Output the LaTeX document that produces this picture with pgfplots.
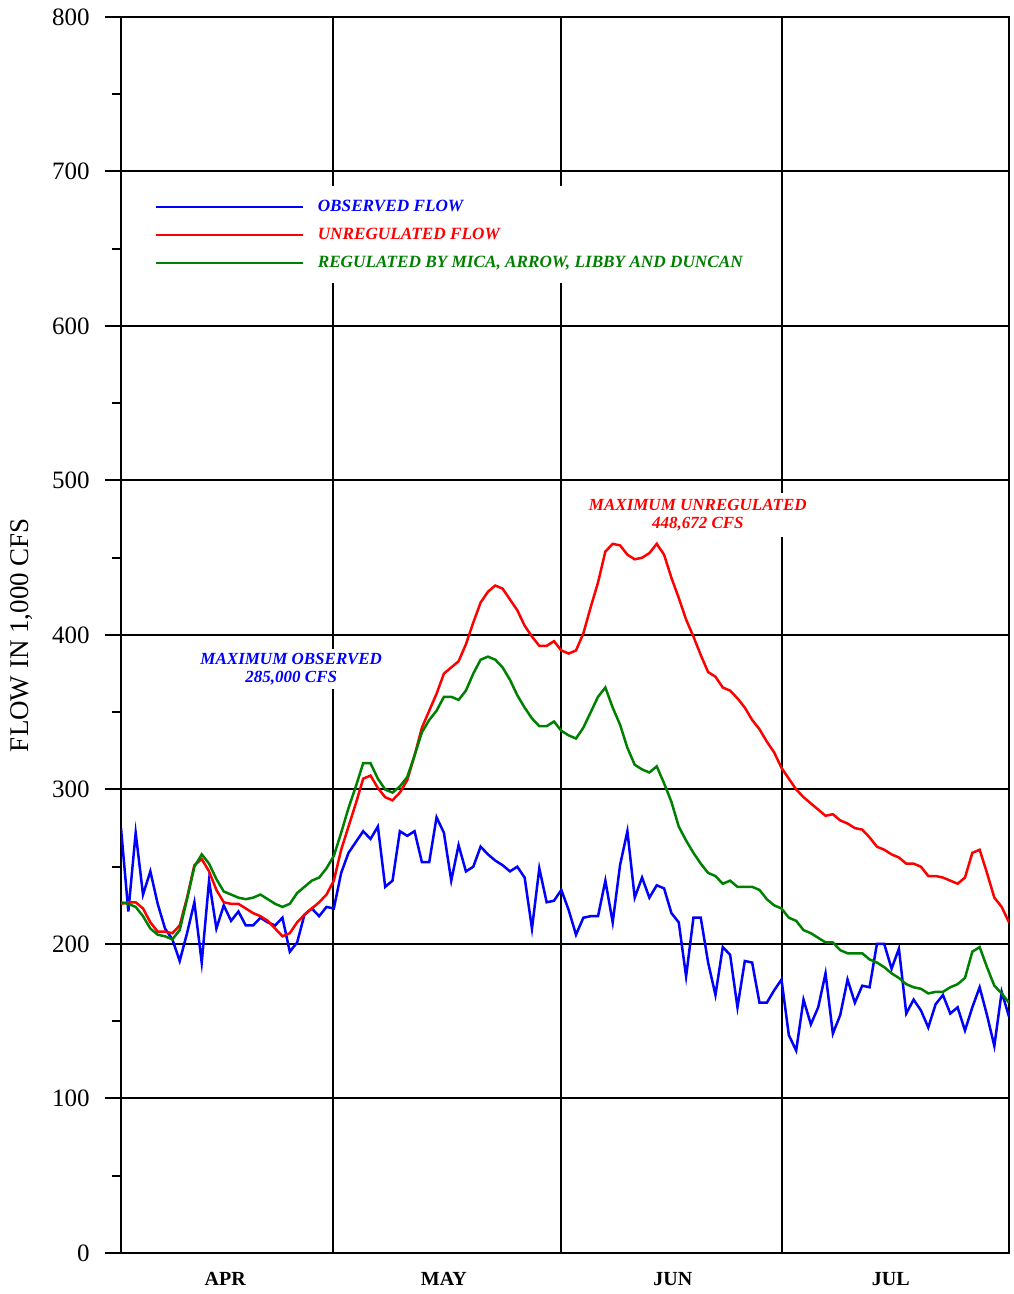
\documentclass[border=0pt]{standalone}
\usepackage{fontspec}
\setmainfont{Liberation Serif}
\usepackage{pgfplots}
\pgfplotsset{compat=1.18}
\usepackage{pgfplotstable}
\definecolor{obs}{RGB}{0,0,255}
\definecolor{unr}{RGB}{255,0,0}
\definecolor{reg}{RGB}{0,128,0}

\pgfplotstableread{
d v
0 275
1 221
2 272
3 232
4 247
5 226
6 210
7 203
8 189
9 207
10 227
11 188
12 241
13 210
14 225
15 215
16 221
17 212
18 212
19 217
20 214
21 212
22 217
23 195
24 201
25 219
26 223
27 218
28 224
29 223
30 246
31 259
32 266
33 273
34 268
35 276
36 237
37 241
38 273
39 270
40 273
41 253
42 253
43 282
44 272
45 241
46 264
47 247
48 250
49 263
50 258
51 254
52 251
53 247
54 250
55 243
56 210
57 249
58 227
59 228
60 235
61 222
62 206
63 217
64 218
65 218
66 241
67 214
68 251
69 273
70 230
71 243
72 230
73 238
74 236
75 220
76 214
77 179
78 217
79 217
80 188
81 167
82 198
83 193
84 159
85 189
86 188
87 162
88 162
89 170
90 177
91 141
92 131
93 164
94 148
95 159
96 181
97 142
98 154
99 177
100 162
101 173
102 172
103 200
104 200
105 184
106 197
107 155
108 164
109 157
110 146
111 161
112 167
113 155
114 159
115 144
116 159
117 172
118 154
119 134
120 169
121 153
}\observed

\pgfplotstableread{
d v
0 226
1 227
2 227
3 223
4 214
5 208
6 208
7 207
8 212
9 230
10 251
11 255
12 247
13 235
14 227
15 226
16 226
17 223
18 220
19 218
20 215
21 210
22 205
23 207
24 214
25 219
26 223
27 227
28 232
29 241
30 261
31 276
32 291
33 307
34 309
35 301
36 295
37 293
38 298
39 306
40 322
41 340
42 351
43 362
44 375
45 379
46 383
47 394
48 408
49 421
50 428
51 432
52 430
53 423
54 416
55 406
56 399
57 393
58 393
59 396
60 390
61 388
62 390
63 401
64 418
65 434
66 454
67 459
68 458
69 452
70 449
71 450
72 453
73 459
74 452
75 437
76 424
77 410
78 399
79 387
80 376
81 373
82 366
83 364
84 359
85 353
86 345
87 339
88 331
89 324
90 314
91 307
92 300
93 295
94 291
95 287
96 283
97 284
98 280
99 278
100 275
101 274
102 269
103 263
104 261
105 258
106 256
107 252
108 252
109 250
110 244
111 244
112 243
113 241
114 239
115 243
116 259
117 261
118 246
119 230
120 224
121 214
}\unregulated

\pgfplotstableread{
d v
0 227
1 226
2 224
3 218
4 210
5 206
6 205
7 203
8 209
9 229
10 250
11 258
12 252
13 242
14 234
15 232
16 230
17 229
18 230
19 232
20 229
21 226
22 224
23 226
24 233
25 237
26 241
27 243
28 249
29 257
30 272
31 288
32 302
33 317
34 317
35 307
36 300
37 298
38 302
39 308
40 322
41 337
42 345
43 351
44 360
45 360
46 358
47 364
48 375
49 384
50 386
51 384
52 379
53 371
54 361
55 353
56 346
57 341
58 341
59 344
60 338
61 335
62 333
63 340
64 350
65 360
66 366
67 353
68 342
69 327
70 316
71 313
72 311
73 315
74 304
75 292
76 276
77 267
78 259
79 252
80 246
81 244
82 239
83 241
84 237
85 237
86 237
87 235
88 229
89 225
90 223
91 217
92 215
93 209
94 207
95 204
96 201
97 201
98 196
99 194
100 194
101 194
102 190
103 188
104 185
105 181
106 178
107 174
108 172
109 171
110 168
111 169
112 169
113 172
114 174
115 178
116 195
117 198
118 185
119 173
120 168
121 162
}\regulated

\begin{document}
\begin{tikzpicture}
\begin{axis}[
  at={(0,0)}, anchor=south west,
  scale only axis, width=444pt, height=618pt,
  xmin=0, xmax=121, ymin=0, ymax=800,
  axis line style={line width=1.2pt},
  ytick={0,100,...,800},
  minor ytick={50,150,...,750},
  ytick pos=left,
  tick align=outside,
  major tick length=8pt, minor tick length=4.5pt,
  every tick/.style={black, line width=1pt},
  ymajorgrids, major grid style={black, line width=1pt},
  /pgf/number format/assume math mode=true,
  yticklabel style={font=\fontsize{12.5}{14}\selectfont, inner sep=0pt, xshift=-7.5pt},
  xtick={14.2,44.0,75.2,104.9},
  xticklabels={APR,MAY,JUN,JUL},
  xtick style={draw=none},
  xticklabel style={font=\bfseries\fontsize{10}{12}\selectfont, inner sep=0pt, yshift=-1.5pt},
  ylabel={FLOW IN 1,000 CFS},
  ylabel style={font=\fontsize{13.5}{16}\selectfont, at={(axis description cs:-0.1115,0.5)}, anchor=center},
  legend cell align=left,
  legend image code/.code={\draw[#1, line width=1.2pt] (0pt,0pt) -- (73.5pt,0pt);},
  legend style={at={(axis description cs:0.0214,0.8633)}, anchor=north west,
    draw=none, fill=white, inner xsep=7pt, inner ysep=6pt, row sep=5.5pt,
    font=\bfseries\itshape\fontsize{8.6}{9}\selectfont,
    nodes={inner sep=0pt, text height=6.5pt, text depth=2pt},
    /tikz/every odd column/.append style={column sep=7pt}},
]
\draw[black, line width=1pt] (axis cs:28.9,0) -- (axis cs:28.9,800);
\draw[black, line width=1pt] (axis cs:60,0) -- (axis cs:60,800);
\draw[black, line width=1pt] (axis cs:90.1,0) -- (axis cs:90.1,800);
\addplot[obs, line width=1.25pt] table[x=d, y=v] {\observed};
\addlegendentry{\textcolor{obs}{OBSERVED FLOW}}
\addplot[unr, line width=1.25pt] table[x=d, y=v] {\unregulated};
\addlegendentry{\textcolor{unr}{UNREGULATED FLOW}}
\addplot[reg, line width=1.25pt] table[x=d, y=v] {\regulated};
\addlegendentry{\textcolor{reg}{REGULATED BY MICA, ARROW, LIBBY AND DUNCAN}}
\node[fill=white, inner xsep=2pt, inner ysep=2pt, align=center, text=obs,
  font=\bfseries\itshape\fontsize{8.5}{9}\selectfont] at (axis cs:23.2,378) {MAXIMUM OBSERVED\\285,000 CFS};
\node[fill=white, inner xsep=2pt, inner ysep=3pt, align=center, text=unr,
  font=\bfseries\itshape\fontsize{8.5}{9}\selectfont] at (axis cs:78.6,477.7) {MAXIMUM UNREGULATED\\448,672 CFS};
\end{axis}
\pgfresetboundingbox
\path[use as bounding box] (-60.5pt,-20.5pt) rectangle (446pt,626.5pt);
\end{tikzpicture}
\end{document}
